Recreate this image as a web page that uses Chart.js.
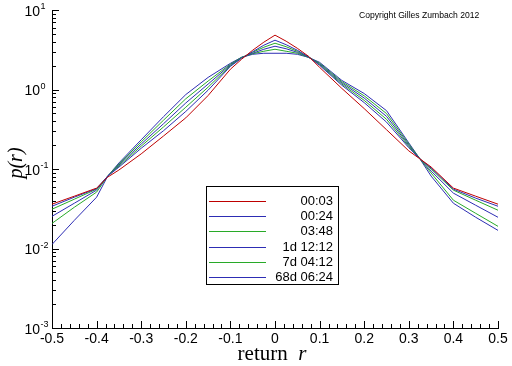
<!DOCTYPE html>
<html>
<head>
<meta charset="utf-8">
<script src="https://cdn.jsdelivr.net/npm/chart.js@4/dist/chart.umd.min.js"></script>
<style>
html,body{margin:0;padding:0;background:#fff;}
#wrap{width:512px;height:366px;position:relative;}
</style>
</head>
<body>
<div id="wrap"><canvas id="c" width="512" height="366"></canvas></div>
<script>
// ---- data ----
const returns = [-0.5,-0.45,-0.4,-0.375,-0.35,-0.3,-0.25,-0.2,-0.15,-0.1,-0.075,-0.05,-0.025,0,0.025,0.05,0.075,0.1,0.15,0.2,0.25,0.3,0.325,0.35,0.4,0.45,0.5];
const p_0003 = [0.0361,0.0455,0.0575,0.0792,0.0971,0.155,0.260,0.440,0.84,1.80,2.40,3.12,3.94,4.83,4.05,3.30,2.62,1.90,1.03,0.575,0.312,0.169,0.134,0.106,0.0575,0.0455,0.0361];
const p_0024 = [0.0340,0.0442,0.0566,0.0815,0.1054,0.1823,0.303,0.530,0.98,1.955,2.469,2.983,3.606,4.172,3.659,3.117,2.579,2.013,1.130,0.684,0.389,0.1855,0.134,0.1030,0.0558,0.0430,0.0340];
const p_0348 = [0.0312,0.0417,0.0558,0.0815,0.1085,0.1938,0.338,0.5988,1.07,1.995,2.504,2.940,3.401,3.822,3.451,3.027,2.579,2.054,1.170,0.730,0.422,0.1921,0.134,0.100,0.0542,0.0405,0.0303];
const p_1d1212 = [0.0254,0.0371,0.0542,0.0815,0.1120,0.206,0.371,0.6767,1.17,2.042,2.527,2.855,3.208,3.502,3.255,2.940,2.557,2.102,1.212,0.7806,0.4592,0.1989,0.134,0.0943,0.0497,0.0350,0.0247];
const p_7d0412 = [0.0207,0.0330,0.0512,0.0815,0.1157,0.2191,0.411,0.7648,1.277,2.084,2.54,2.814,3.027,3.208,3.027,2.855,2.54,2.146,1.255,0.832,0.4982,0.206,0.134,0.0890,0.0405,0.0277,0.0190];
const p_68d0624 = [0.01124,0.0226,0.0442,0.0815,0.119,0.233,0.455,0.864,1.419,2.134,2.54,2.773,2.855,2.855,2.855,2.773,2.54,2.197,1.300,0.890,0.542,0.213,0.134,0.0815,0.0371,0.0247,0.0169];
const seriesLabels = ['00:03','00:24','03:48','1d 12:12','7d 04:12','68d 06:24'];
const xTicks = [-0.5,-0.4,-0.3,-0.2,-0.1,0,0.1,0.2,0.3,0.4,0.5];
const xTickLabels = ['-0.5','-0.4','-0.3','-0.2','-0.1','0','0.1','0.2','0.3','0.4','0.5'];
const yTicks = [0.001,0.01,0.1,1,10];
const yTickExps = ['-3','-2','-1','0','1'];

const RED='rgb(190,0,0)', BLUE='rgb(45,45,180)', GREEN='rgb(40,170,40)';
const colors=[RED,BLUE,GREEN,BLUE,GREEN,BLUE];
const allSeries=[p_0003,p_0024,p_0348,p_1d1212,p_7d0412,p_68d0624];

const datasets = allSeries.map((s,i)=>({
  label: seriesLabels[i],
  data: returns.map((x,j)=>({x:x,y:s[j]})),
  borderColor: colors[i], borderWidth:1, pointRadius:0, tension:0, fill:false
}));

const deco = {
  id:'deco',
  afterDraw(chart){
    const ctx=chart.ctx, xs=chart.scales.x, ys=chart.scales.y, ca=chart.chartArea;
    ctx.save();
    ctx.strokeStyle='#000'; ctx.lineWidth=1;
    ctx.beginPath();
    for(let k=-25;k<=25;k++){
      const v=k/50; const px=Math.round(xs.getPixelForValue(v))+0.5;
      const len=(k%5===0)?7:4;
      ctx.moveTo(px,ca.bottom); ctx.lineTo(px,ca.bottom-len);
    }
    for(let d=-3;d<=1;d++){
      for(let m=1;m<=9;m++){
        if(d===1 && m>1) break;
        const v=m*Math.pow(10,d); const py=Math.round(ys.getPixelForValue(v))+0.5;
        const len=(m===1)?7:4;
        ctx.moveTo(ca.left,py); ctx.lineTo(ca.left+len,py);
      }
    }
    ctx.stroke();
    ctx.fillStyle='#000';
    yTicks.forEach((v,i)=>{
      const py=ys.getPixelForValue(v);
      ctx.font='14px "Liberation Sans", Arial, sans-serif';
      ctx.textAlign='right'; ctx.textBaseline='middle';
      ctx.fillText('10',40,py+2);
      ctx.font='9px "Liberation Sans", Arial, sans-serif';
      ctx.textAlign='left';
      ctx.fillText(yTickExps[i],40.5,py-3);
    });
    ctx.textBaseline='alphabetic';
    ctx.font='21px "Liberation Serif", "Times New Roman", serif';
    const w1=ctx.measureText('return  ').width;
    ctx.font='italic 21px "Liberation Serif", "Times New Roman", serif';
    const w2=ctx.measureText('r').width;
    const cx=(ca.left+ca.right)/2-3; let sx=cx-(w1+w2)/2;
    ctx.font='21px "Liberation Serif", "Times New Roman", serif';
    ctx.textAlign='left';
    ctx.fillText('return  ',sx,360);
    ctx.font='italic 21px "Liberation Serif", "Times New Roman", serif';
    ctx.fillText('r',sx+w1,360);
    ctx.save();
    ctx.translate(22,163); ctx.rotate(-Math.PI/2);
    ctx.font='italic 20px "Liberation Serif", "Times New Roman", serif';
    ctx.textAlign='center';
    ctx.fillText('p(r)',0,0);
    ctx.restore();
    ctx.font='8.6px "Liberation Sans", Arial, sans-serif';
    ctx.textAlign='left'; ctx.textBaseline='middle';
    ctx.fillText('Copyright Gilles Zumbach 2012',359,16);
    const lx=206.5, ly=186.5, lw=132, lh=98;
    ctx.fillStyle='#fff'; ctx.fillRect(lx,ly,lw,lh);
    ctx.strokeStyle='#000'; ctx.strokeRect(lx,ly,lw,lh);
    chart.data.datasets.forEach((ds,i)=>{
      const ry=Math.round(200.7+i*15.3)+0.5;
      ctx.strokeStyle=ds.borderColor; ctx.lineWidth=1;
      ctx.beginPath(); ctx.moveTo(209,ry); ctx.lineTo(266,ry); ctx.stroke();
      ctx.fillStyle='#000';
      ctx.font='13px "Liberation Sans", Arial, sans-serif';
      ctx.textAlign='right'; ctx.textBaseline='middle';
      ctx.fillText(ds.label,333,ry);
    });
    ctx.restore();
  }
};

new Chart(document.getElementById('c'),{
  type:'line',
  data:{datasets:datasets},
  options:{
    responsive:false, animation:false, devicePixelRatio:1,
    layout:{padding:{left:0,top:10,right:14,bottom:0}},
    plugins:{legend:{display:false},tooltip:{enabled:false}},
    scales:{
      x:{type:'linear',min:-0.5,max:0.5,
        afterBuildTicks(s){s.ticks=xTicks.map(v=>({value:v}));},
        afterFit(s){s.height=38;},
        ticks:{callback:(v,i)=>xTickLabels[i],color:'#000',padding:3,maxRotation:0,autoSkip:false,
          font:{family:'"Liberation Sans", Arial, sans-serif',size:14}},
        grid:{display:false,drawTicks:false},
        border:{display:true,color:'#000',width:1}
      },
      y:{type:'logarithmic',min:0.001,max:10,
        afterBuildTicks(s){s.ticks=yTicks.map(v=>({value:v}));},
        afterFit(s){s.width=52;},
        ticks:{display:false},
        grid:{display:false,drawTicks:false},
        border:{display:true,color:'#000',width:1}
      }
    }
  },
  plugins:[deco]
});
</script>
</body>
</html>
